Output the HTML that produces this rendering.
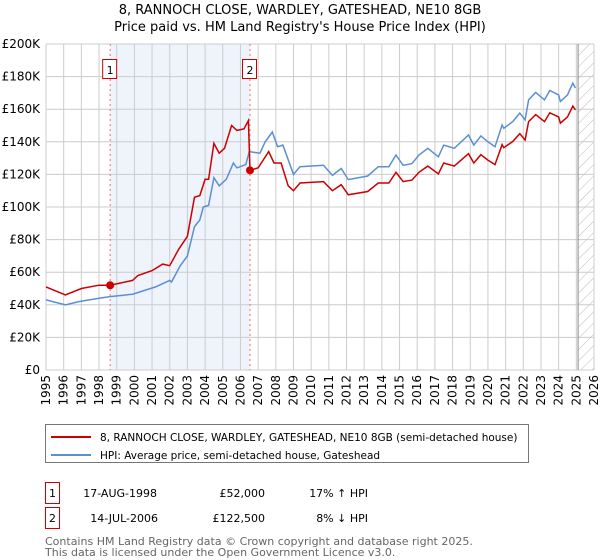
<!DOCTYPE html>
<html><head><meta charset="utf-8"><style>
body{margin:0;background:#fff;font-family:"DejaVu Sans","Liberation Sans",sans-serif;}
#wrap{position:relative;width:600px;height:560px;overflow:hidden;}
</style></head><body><div id="wrap">
<svg id="chart" width="600" height="560" style="position:absolute;left:0;top:0;font-family:'DejaVu Sans','Liberation Sans',sans-serif">
<defs><pattern id="hatch" patternUnits="userSpaceOnUse" width="8" height="8" patternTransform="rotate(45)"><line x1="0" y1="0" x2="0" y2="8" stroke="#bbb" stroke-width="1"/></pattern></defs>
<text x="300" y="14" text-anchor="middle" font-size="13" fill="#000">8, RANNOCH CLOSE, WARDLEY, GATESHEAD, NE10 8GB</text>
<text x="300" y="31" text-anchor="middle" font-size="13" fill="#000">Price paid vs. HM Land Registry's House Price Index (HPI)</text>
<g id="g"></g>
</svg>
<svg width="600" height="560" style="position:absolute;left:0;top:0;font-family:'DejaVu Sans','Liberation Sans',sans-serif">
<rect x="45.5" y="424.5" width="483" height="38" fill="#fff" stroke="#777"/>
<line x1="51" y1="437" x2="91" y2="437" stroke="#cc0000" stroke-width="2"/>
<text x="100" y="441" font-size="10.5">8, RANNOCH CLOSE, WARDLEY, GATESHEAD, NE10 8GB (semi-detached house)</text>
<line x1="51" y1="455" x2="91" y2="455" stroke="#5b8fd4" stroke-width="2"/>
<text x="100" y="459" font-size="10.5">HPI: Average price, semi-detached house, Gateshead</text>
<rect x="45.5" y="482.5" width="14" height="21" fill="#fff" stroke="#cc0000"/>
<text x="52.5" y="497" font-size="11" text-anchor="middle">1</text>
<text x="157" y="497" font-size="11" text-anchor="end">17-AUG-1998</text>
<text x="265" y="497" font-size="11" text-anchor="end">£52,000</text>
<text x="368" y="497" font-size="11" text-anchor="end">17% ↑ HPI</text>
<rect x="45.5" y="507.5" width="14" height="21" fill="#fff" stroke="#cc0000"/>
<text x="52.5" y="522" font-size="11" text-anchor="middle">2</text>
<text x="158" y="522" font-size="11" text-anchor="end">14-JUL-2006</text>
<text x="265" y="522" font-size="11" text-anchor="end">£122,500</text>
<text x="368" y="522" font-size="11" text-anchor="end">8% ↓ HPI</text>
<text x="45" y="545" font-size="11" fill="#666">Contains HM Land Registry data © Crown copyright and database right 2025.</text>
<text x="45" y="556" font-size="11" fill="#666">This data is licensed under the Open Government Licence v3.0.</text>
</svg>
</div>
<script>
const hpiYears=[1995.0,1996.1,1996.9,1998.0,1998.63,1999.9,2001.2,2002.0,2002.1,2002.6,2003.0,2003.4,2003.7,2003.9,2004.2,2004.5,2004.8,2005.2,2005.6,2005.8,2006.3,2006.5,2007.1,2007.4,2007.8,2008.1,2008.4,2009.0,2009.37,2010.7,2011.2,2011.7,2012.1,2013.2,2013.8,2014.4,2014.8,2015.2,2015.7,2016.1,2016.6,2017.2,2017.5,2018.1,2018.9,2019.2,2019.6,2020.0,2020.4,2020.8,2020.9,2021.4,2021.8,2022.1,2022.3,2022.7,2023.2,2023.5,2024.0,2024.1,2024.5,2024.8,2024.95];
const hpiValues=[43,40,42,44,45,46.5,51,55,54,64,70,88,92,100,101,118,113,117,127,124,126,134,133,140,146,137,138,120,124.7,125.6,119.4,123.6,116.8,119,124.7,124.7,131.9,125.6,126.6,131.9,136,130.8,138,136,144.2,138,143.6,140,137,150.3,148.3,152.4,157.6,153.4,165.7,170.3,165.7,171.5,168.8,164.7,168.8,176,173];
const priceYears=[1995.0,1996.1,1997.0,1998.0,1998.63,1999.9,2000.2,2001.0,2001.6,2002.0,2002.5,2003.0,2003.4,2003.7,2004.0,2004.2,2004.5,2004.8,2005.1,2005.5,2005.8,2006.2,2006.45,2006.54,2007.0,2007.6,2007.9,2008.3,2008.7,2009.0,2009.37,2010.7,2011.2,2011.7,2012.1,2013.2,2013.8,2014.4,2014.8,2015.2,2015.7,2016.1,2016.6,2017.2,2017.5,2018.1,2018.9,2019.2,2019.6,2020.0,2020.4,2020.8,2020.9,2021.4,2021.8,2022.1,2022.3,2022.7,2023.2,2023.5,2024.0,2024.1,2024.5,2024.8,2024.95];
const priceValues=[51,46,50,52,52,55,58,61,65,64,74,82,106,107,117,117,139,133,136,150,147,148,153,122.5,124,134,127,127,113,110,114.7,115.6,110,113.7,107.5,109.5,114.7,114.7,121.3,115.6,116.5,121.3,125.1,120.3,127,125.1,132.7,127,132.1,128.8,126,138.3,136.4,140.2,145,141.1,152.4,156.7,152.4,157.8,155.3,151.5,155.3,161.9,159.6];
const sales=[{t:1998.63,v:52,label:"1"},{t:2006.54,v:122.5,label:"2"}];
const yTicks=[0,20,40,60,80,100,120,140,160,180,200];
const yTickLabels=["£0","£20K","£40K","£60K","£80K","£100K","£120K","£140K","£160K","£180K","£200K"];
const xTicks=[1995,1996,1997,1998,1999,2000,2001,2002,2003,2004,2005,2006,2007,2008,2009,2010,2011,2012,2013,2014,2015,2016,2017,2018,2019,2020,2021,2022,2023,2024,2025,2026];
const forecastStart=2025.1;

const L=46,R=594,T=44,B=370;
const x=t=>L+(t-1995)/(2026-1995)*(R-L);
const y=v=>B-v/200*(B-T);
const NS="http://www.w3.org/2000/svg";
const g=document.getElementById('g');
function mk(tag,attrs,parent){const e=document.createElementNS(NS,tag);for(const k in attrs)e.setAttribute(k,attrs[k]);(parent||g).appendChild(e);return e;}
const sh=mk('rect',{x:x(sales[0].t),y:T,width:x(sales[1].t)-x(sales[0].t),height:B-T,fill:'#eef3fc'});


const hz=mk('rect',{x:x(forecastStart),y:T,width:R-x(forecastStart),height:B-T,fill:'url(#hatch)'});


yTicks.forEach((v,i)=>{
 const l=mk('line',{x1:L,x2:R,y1:y(v),y2:y(v),stroke:'#ccc','stroke-width':1});
 
 
 const tx=mk('text',{x:L-6,y:y(v)+4,'text-anchor':'end','font-size':12,fill:'#000'});
 tx.textContent=yTickLabels[i];
 
 
});
xTicks.forEach(t=>{
 const l=mk('line',{x1:x(t),x2:x(t),y1:T,y2:B,stroke:'#ccc','stroke-width':1});
 
 
 const tx=mk('text',{x:0,y:0,'text-anchor':'end','font-size':12,fill:'#000',transform:`translate(${x(t)+4},${B+5}) rotate(-90)`});
 tx.textContent=t;
 
 
});
const fl=mk('line',{x1:x(forecastStart),x2:x(forecastStart),y1:T,y2:B,stroke:'#888','stroke-width':1});


sales.forEach(s=>{
 const l=mk('line',{x1:x(s.t),x2:x(s.t),y1:T,y2:B,stroke:'#f07070','stroke-width':1,'stroke-dasharray':'2,3'});
 
 
});
function path(xs,vs){return xs.map((t,i)=>(i?'L':'M')+x(t).toFixed(1)+','+y(vs[i]).toFixed(1)).join('');}
const hp=mk('path',{d:path(hpiYears,hpiValues),fill:'none',stroke:'#5b8fd4','stroke-width':1.5});


const pp=mk('path',{d:path(priceYears,priceValues),fill:'none',stroke:'#cc0000','stroke-width':1.5});


sales.forEach(s=>{
 const c=mk('circle',{cx:x(s.t),cy:y(s.v),r:4,fill:'#cc0000'});
 
 
 const b=mk('rect',{x:x(s.t)-7.5,y:59.5,width:14,height:19,fill:'#fff',stroke:'#cc0000'});
 
 
 const tx=mk('text',{x:x(s.t),y:74,'text-anchor':'middle','font-size':11});
 tx.textContent=s.label;
 
 
});
</script></body></html>
